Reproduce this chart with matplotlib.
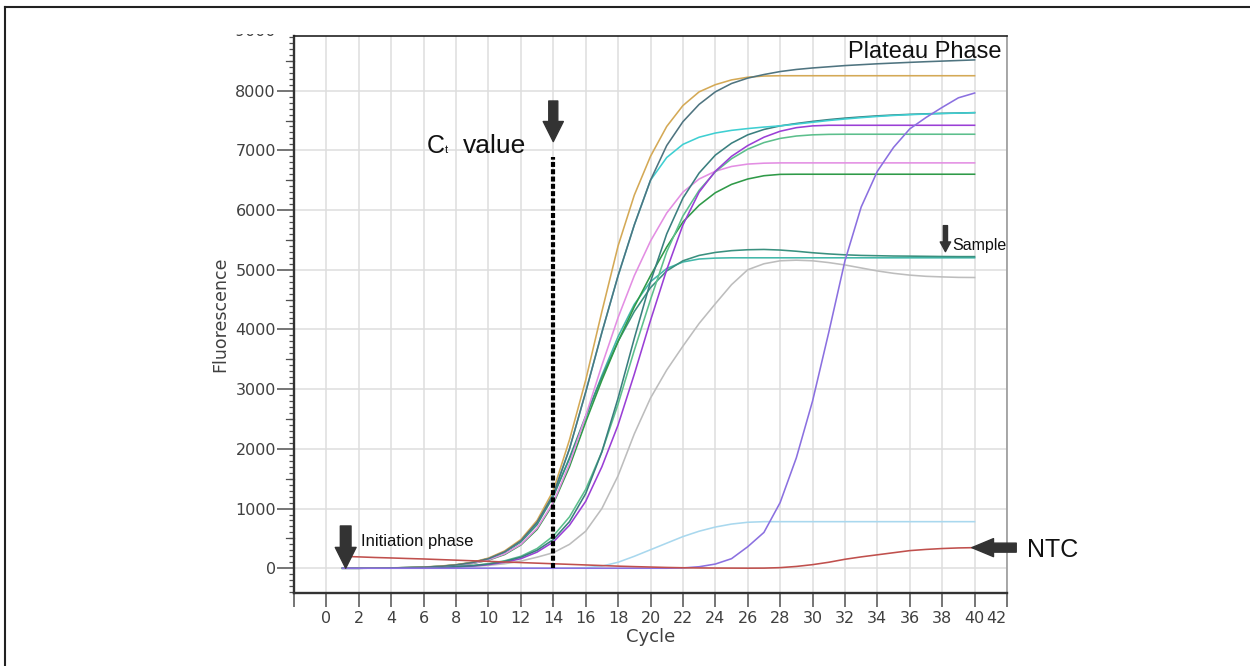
import matplotlib
matplotlib.use("Agg")
import matplotlib.pyplot as plt
import matplotlib.transforms as mtransforms
from matplotlib.patches import Rectangle
from matplotlib.lines import Line2D
from matplotlib.ticker import MultipleLocator, FixedLocator, FixedFormatter

# amplification curves, fluorescence per cycle (cycles 1..40)
cycles = list(range(1, 41))

gold = [0, 0, 3, 6, 12, 20, 35, 60, 100, 170, 290, 480, 800,
        1300, 2150, 3150, 4300, 5400, 6250, 6900, 7400, 7750, 7980,
        8100, 8180, 8225, 8245, 8250, 8250, 8250, 8250, 8250, 8250,
        8250, 8250, 8250, 8250, 8250, 8250, 8250]
slate = [0, 0, 2, 5, 10, 18, 30, 55, 95, 160, 275, 460, 770,
         1230, 2000, 2950, 3950, 4900, 5750, 6500, 7080, 7480, 7770,
         7980, 8120, 8210, 8270, 8320, 8355, 8380, 8400, 8420, 8435,
         8450, 8462, 8474, 8485, 8495, 8505, 8515]
cyan = [0, 0, 2, 5, 10, 18, 32, 55, 95, 160, 275, 460, 770,
        1250, 2000, 2950, 3950, 4900, 5750, 6500, 6880, 7100, 7220,
        7290, 7335, 7365, 7390, 7410, 7440, 7470, 7500, 7525, 7548,
        7568, 7585, 7598, 7608, 7617, 7624, 7630]
teal = [0, 0, 1, 3, 6, 10, 16, 26, 42, 70, 115, 185, 300,
        480, 780, 1250, 1950, 2850, 3850, 4800, 5600, 6200, 6620,
        6920, 7120, 7260, 7350, 7410, 7450, 7485, 7515, 7540, 7560,
        7578, 7592, 7603, 7612, 7620, 7625, 7632]
purple = [0, 0, 1, 3, 5, 9, 14, 22, 36, 60, 100, 160, 270,
          440, 720, 1120, 1700, 2400, 3250, 4150, 5000, 5750, 6300,
          6650, 6900, 7080, 7220, 7320, 7380, 7410, 7420, 7420, 7420,
          7420, 7420, 7420, 7420, 7420, 7420, 7420]
medgreen = [0, 0, 1, 3, 6, 10, 16, 27, 44, 75, 125, 200, 330,
            540, 860, 1320, 1950, 2750, 3650, 4500, 5300, 5900, 6330,
            6640, 6860, 7020, 7130, 7200, 7240, 7260, 7268, 7270, 7270,
            7270, 7270, 7270, 7270, 7270, 7270, 7270]
pink = [0, 0, 2, 4, 9, 16, 28, 48, 82, 140, 240, 400, 670,
        1100, 1750, 2550, 3400, 4200, 4900, 5480, 5950, 6300, 6520,
        6650, 6730, 6770, 6785, 6790, 6790, 6790, 6790, 6790, 6790,
        6790, 6790, 6790, 6790, 6790, 6790, 6790]
green = [0, 0, 2, 4, 8, 15, 26, 45, 78, 135, 230, 390, 650,
         1080, 1700, 2450, 3150, 3800, 4380, 4900, 5380, 5800, 6080,
         6290, 6430, 6520, 6575, 6598, 6600, 6600, 6600, 6600, 6600,
         6600, 6600, 6600, 6600, 6600, 6600, 6600]
sample_a = [0, 0, 2, 5, 10, 18, 30, 52, 90, 155, 265, 440, 730,
            1200, 1850, 2550, 3200, 3800, 4300, 4700, 4980, 5150, 5240,
            5290, 5320, 5335, 5340, 5330, 5310, 5285, 5265, 5250, 5240,
            5235, 5230, 5228, 5225, 5222, 5220, 5220]
sample_b = [0, 0, 2, 5, 10, 18, 32, 55, 95, 160, 275, 455, 750,
            1220, 1830, 2520, 3230, 3880, 4420, 4800, 5020, 5130, 5180,
            5195, 5200, 5200, 5200, 5200, 5200, 5200, 5200, 5200, 5200,
            5200, 5200, 5200, 5200, 5200, 5200, 5200]
gray = [0, 0, 1, 2, 4, 7, 12, 19, 30, 48, 75, 120, 185,
        260, 400, 620, 1000, 1550, 2250, 2850, 3320, 3720, 4100,
        4430, 4750, 5000, 5100, 5150, 5160, 5150, 5120, 5080, 5030,
        4980, 4940, 4910, 4890, 4880, 4872, 4870]
lightblue = [0, 0, 0, 0, 0, 0, 0, 0, 0, 0, 0, 0, 0,
             0, 2, 10, 35, 100, 200, 310, 420, 530, 620,
             690, 740, 770, 780, 780, 780, 780, 780, 780, 780,
             780, 780, 780, 780, 780, 780, 780]
late = [0, 0, 0, 0, 0, 0, 0, 0, 0, 0, 0, 0, 0,
        0, 0, 0, 0, 0, 0, 0, 0, 5, 25,
        70, 160, 360, 600, 1100, 1850, 2800, 3950, 5150, 6050,
        6650, 7050, 7360, 7550, 7720, 7880, 7960]
ntc = [200, 190, 180, 172, 163, 155, 145, 135, 125, 115, 105, 95, 85,
       75, 65, 55, 45, 35, 27, 20, 13, 8, 5,
       3, 2, 1, 2, 10, 30, 60, 100, 150, 190,
       225, 260, 295, 315, 330, 340, 345]

curves = [
    (gray, "#bdbdbd"),
    (lightblue, "#a9d8ee"),
    (sample_b, "#43b8aa"),
    (sample_a, "#3a907f"),
    (green, "#2f9a48"),
    (pink, "#e38ee3"),
    (medgreen, "#5cbf8c"),
    (purple, "#9a3fd6"),
    (teal, "#3a7f7f"),
    (cyan, "#3fcfd2"),
    (gold, "#d4a956"),
    (slate, "#4f7480"),
    (late, "#8b70e0"),
    (ntc, "#c0504d"),
]

ct_cycle = 14
x_ticks = list(range(-2, 43, 2))
x_labels = [""] + [str(t) for t in range(0, 43, 2)]
y_ticks = list(range(0, 9000, 1000))

TXT = "#404040"
ANN = "Liberation Sans"

fig = plt.figure(figsize=(12.5, 6.66), dpi=100)
ax = fig.add_axes([0.2352, 0.1096, 0.5704, 0.8363])

for vals, col in curves:
    ax.plot(cycles, vals, color=col, lw=1.15, zorder=3)

ax.set_xlim(-2, 42)
ax.set_ylim(-415, 8915)

ax.xaxis.set_major_locator(FixedLocator(x_ticks))
ax.xaxis.set_major_formatter(FixedFormatter(x_labels))
ax.yaxis.set_major_locator(FixedLocator(y_ticks))
ax.yaxis.set_minor_locator(MultipleLocator(100))

ax.grid(True, which="major", color="#dedede", lw=1.1, zorder=0)
ax.set_axisbelow(True)
# vertical grid only at 0..40
for gl, t in zip(ax.get_xgridlines(), x_ticks):
    if t < 0:
        gl.set_visible(False)

ax.tick_params(axis="both", which="major", direction="out", length=10,
               width=1.1, color="#505050", labelsize=11.5, labelcolor=TXT, pad=2)
ax.tick_params(axis="y", which="major", length=12, pad=1)
ax.tick_params(axis="y", which="minor", direction="out", length=3.5,
               width=0.9, color="#505050")
ax.tick_params(axis="x", pad=3)

# "40" and "42" sit tight together in the original
ax.get_xticklabels()[-1].set_horizontalalignment("right")

# medium ticks every 500
blend = mtransforms.blended_transform_factory(ax.transAxes, ax.transData)
for yv in range(0, 9000, 500):
    if yv % 1000:
        ax.add_line(Line2D([-0.0115, 0], [yv, yv], transform=blend, color="#505050",
                           lw=0.9, clip_on=False))

for side, col, w in [("left", "#333333", 1.7), ("bottom", "#333333", 1.7),
                     ("top", "#222222", 1.2), ("right", "#9a9a9a", 1.2)]:
    ax.spines[side].set_color(col)
    ax.spines[side].set_linewidth(w)

ax.set_ylabel("Fluorescence", fontsize=12.5, color=TXT)
ax.yaxis.set_label_coords(-0.091, 0.5)
ax.set_xlabel("Cycle", fontsize=13, color=TXT)
ax.xaxis.set_label_coords(0.5, -0.062)

# Ct marker
ax.plot([ct_cycle, ct_cycle], [0, 6885], color="black", lw=3.0,
        linestyle=(0, (1.2, 0.55)), zorder=5)


def block_arrow(tail, tip, head_l, head_w, tail_w):
    ax.annotate("", xy=tip, xytext=tail, annotation_clip=False,
                arrowprops=dict(arrowstyle=f"simple,head_length={head_l},"
                                f"head_width={head_w},tail_width={tail_w}",
                                color="#333333", shrinkA=0, shrinkB=0,
                                mutation_scale=1), zorder=6)


block_arrow((ct_cycle, 7827), (ct_cycle, 7146), 14.5, 14.5, 6.5)
block_arrow((1.19, 708), (1.19, 0), 15, 15, 7.7)
block_arrow((42.57, ntc[-1]), (39.83, ntc[-1]), 15.6, 13, 6.5)
block_arrow((38.2, 5739), (38.2, 5303), 7, 7.5, 3)

ax.text(6.19, 6956, "C", fontsize=18, family=ANN, va="baseline", ha="left", color="#111111")
ax.text(7.32, 6962, "t", fontsize=8, family=ANN, va="baseline", ha="left", color="#111111")
ax.text(8.45, 6956, "value", fontsize=19, family=ANN, va="baseline", ha="left", color="#111111")
ax.text(41.69, 8543, "Plateau Phase", fontsize=17, family=ANN, va="baseline", ha="right",
        color="#111111")
ax.text(38.6, 5332, "Sample", fontsize=11.5, family=ANN, va="baseline", ha="left",
        color="#111111")
ax.text(2.12, 374, "Initiation phase", fontsize=12, family=ANN, va="baseline", ha="left",
        color="#111111")
ax.text(43.25, 184, "NTC", fontsize=18, family=ANN, va="baseline", ha="left",
        color="#111111", clip_on=False)

# top tick label cut off by the crop of the original picture
fig.text(276 / 1250, 1 - 31 / 666, "9000", ha="right", va="center", fontsize=11.5, color=TXT)
fig.patches.append(Rectangle((195 / 1250, 1 - 33.5 / 666), 92 / 1250, 24.5 / 666,
                             transform=fig.transFigure, facecolor="white",
                             edgecolor="none", zorder=10))

# frame of the original picture (left and top edges)
fig.add_artist(Line2D([5 / 1250, 5 / 1250], [0, 1 - 7 / 666], transform=fig.transFigure,
                      color="#222222", lw=1.5))
fig.add_artist(Line2D([5 / 1250, 1], [1 - 7 / 666, 1 - 7 / 666], transform=fig.transFigure,
                      color="#222222", lw=1.5))

fig.savefig("out.png", dpi=100, facecolor="white")
